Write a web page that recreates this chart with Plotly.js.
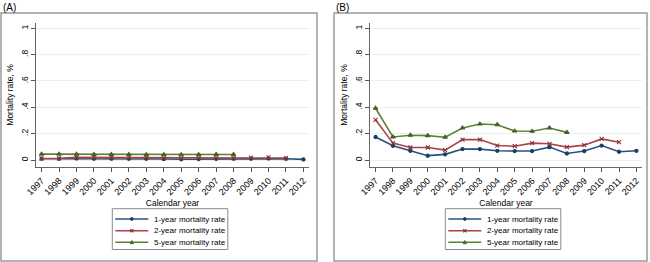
<!DOCTYPE html>
<html><head><meta charset="utf-8">
<script src="https://cdn.plot.ly/plotly-3.0.1.min.js"></script>
<style>html,body{margin:0;padding:0;background:#fff}#c{width:650px;height:262px}</style>
</head><body><div id="c"></div>
<script>
const years = [1997,1998,1999,2000,2001,2002,2003,2004,2005,2006,2007,2008,2009,2010,2011,2012];
const seriesNames = ['1-year mortality rate','2-year mortality rate','5-year mortality rate'];
const yTickVals = [0,0.2,0.4,0.6,0.8,1];
const yTickText = ['0','.2','.4','.6','.8','1'];
// Panel A
const a1 = [0.010,0.010,0.012,0.010,0.010,0.010,0.010,0.008,0.006,0.007,0.009,0.010,0.010,0.012,0.010,0.005];
const a2 = [0.012,0.013,0.020,0.020,0.020,0.020,0.018,0.015,0.015,0.016,0.016,0.015,0.018,0.020,0.015];
const a5 = [0.045,0.045,0.044,0.042,0.042,0.042,0.040,0.040,0.040,0.041,0.042,0.042];
// Panel B
const b1 = [0.175,0.108,0.070,0.033,0.043,0.083,0.083,0.070,0.068,0.068,0.098,0.050,0.068,0.110,0.063,0.070];
const b2 = [0.305,0.128,0.095,0.095,0.075,0.155,0.155,0.110,0.105,0.128,0.123,0.098,0.113,0.160,0.135];
const b5 = [0.393,0.175,0.188,0.185,0.173,0.243,0.273,0.268,0.220,0.218,0.243,0.210];

const lineCol = ['#27507e','#a8434b','#5f8039'];
const mkCol = ['#173f66','#8a2f36','#44631f'];
const symbols = ['circle','x-thin-open','triangle-up'];
const mkSize = [3.2,4,4];
const W = 650, H = 262;
const px = v => v / W, py = v => 1 - v / H;

function mk(vals, i, xa, ya){
  return {x: years.slice(0, vals.length), y: vals, type:'scatter', mode:'lines+markers',
    name: seriesNames[i], xaxis: xa, yaxis: ya, showlegend:false,
    line:{color: lineCol[i], width:1.6},
    marker:{symbol: symbols[i], size: mkSize[i], color: mkCol[i], line:{color: mkCol[i], width:1.1}}};
}
const traces = [
  mk(a1,0,'x','y'), mk(a2,1,'x','y'), mk(a5,2,'x','y'),
  mk(b1,0,'x2','y2'), mk(b2,1,'x2','y2'), mk(b5,2,'x2','y2')
];
const fontFam = 'Liberation Sans, Arial, sans-serif';
function xax(dom, anchor){
  return {domain: dom, anchor: anchor, automargin:false, range:[1996.68,2012.32], tickvals: years, ticktext: years.map(String),
    tickangle:-45, ticks:'outside', ticklen:4, tickcolor:'#555', showline:true, linecolor:'#666', linewidth:1,
    showgrid:false, zeroline:false, tickfont:{size:9, color:'#000'},
    title:{text:'Calendar year', font:{size:8.5,color:'#000'}, standoff:3}};
}
function yax(anchor){
  return {domain:[py(167), py(23)], range:[-0.053,1.04], anchor: anchor, automargin:false, tickvals: yTickVals, ticktext: yTickText,
    tickangle:-90, ticks:'outside', ticklen:4, tickcolor:'#555', showline:true, linecolor:'#666', linewidth:1,
    showgrid:true, gridcolor:'#e8f0f2', gridwidth:1, zeroline:false, tickfont:{size:8.5,color:'#000'},
    title:{text:'Mortality rate, %', font:{size:8.5,color:'#000'}, standoff:4}};
}

const shapes = [
  {type:'rect', xref:'paper', yref:'paper', x0:px(1), x1:px(317), y0:py(261), y1:py(13), line:{color:'#9a9a9a', width:1.5}},
  {type:'rect', xref:'paper', yref:'paper', x0:px(334), x1:px(647), y0:py(261), y1:py(13), line:{color:'#9a9a9a', width:1.5}}
];
const annotations = [
  {text:'(A)', xref:'paper', yref:'paper', x:px(1), y:1, xanchor:'left', yanchor:'top', showarrow:false, font:{size:10,color:'#000'}},
  {text:'(B)', xref:'paper', yref:'paper', x:px(334), y:1, xanchor:'left', yanchor:'top', showarrow:false, font:{size:10,color:'#000'}}
];
// custom legends (Stata-style compact legend box)
const rowY = [219, 230.7, 242.3];
function addLegend(left){
  shapes.push({type:'rect', xref:'paper', yref:'paper', x0:px(left), x1:px(left+115.5), y0:py(249.5), y1:py(208.7), line:{color:'#8a8a8a', width:1}, fillcolor:'#fff'});
  rowY.forEach((yy,i)=>{
    const l0 = left+3, l1 = left+36, mx = (l0+l1)/2;
    shapes.push({type:'line', xref:'paper', yref:'paper', x0:px(l0), x1:px(l1), y0:py(yy), y1:py(yy), line:{color:lineCol[i], width:1.6}});
    if(i===0){
      shapes.push({type:'circle', xref:'paper', yref:'paper', x0:px(mx-1.4), x1:px(mx+1.4), y0:py(yy+1.4), y1:py(yy-1.4), line:{color:mkCol[0], width:1}, fillcolor:mkCol[0]});
    } else if(i===1){
      shapes.push({type:'line', xref:'paper', yref:'paper', x0:px(mx-1.6), x1:px(mx+1.6), y0:py(yy-1.6), y1:py(yy+1.6), line:{color:mkCol[1], width:1.1}});
      shapes.push({type:'line', xref:'paper', yref:'paper', x0:px(mx-1.6), x1:px(mx+1.6), y0:py(yy+1.6), y1:py(yy-1.6), line:{color:mkCol[1], width:1.1}});
    } else {
      shapes.push({type:'path', xref:'paper', yref:'paper',
        path:`M ${px(mx-1.8)} ${py(yy+1.4)} L ${px(mx+1.8)} ${py(yy+1.4)} L ${px(mx)} ${py(yy-1.8)} Z`, line:{color:mkCol[2], width:0.8}, fillcolor:mkCol[2]});
    }
    annotations.push({text:seriesNames[i], xref:'paper', yref:'paper', x:px(left+40), y:py(yy), xanchor:'left', yanchor:'middle',
      showarrow:false, font:{size:8,color:'#000'}});
  });
}
addLegend(112.3);
addLegend(445.3);

const layout = {
  width:W, height:H, margin:{l:0,r:0,t:0,b:0}, paper_bgcolor:'#fff', plot_bgcolor:'#fff',
  font:{family: fontFam, color:'#000'}, showlegend:false,
  xaxis: xax([px(36), px(309)], 'y'), yaxis: yax('x'),
  xaxis2: xax([px(370), px(642)], 'y2'), yaxis2: yax('x2'),
  shapes: shapes, annotations: annotations
};
Plotly.newPlot('c', traces, layout, {displayModeBar:false, staticPlot:true});
</script></body></html>
